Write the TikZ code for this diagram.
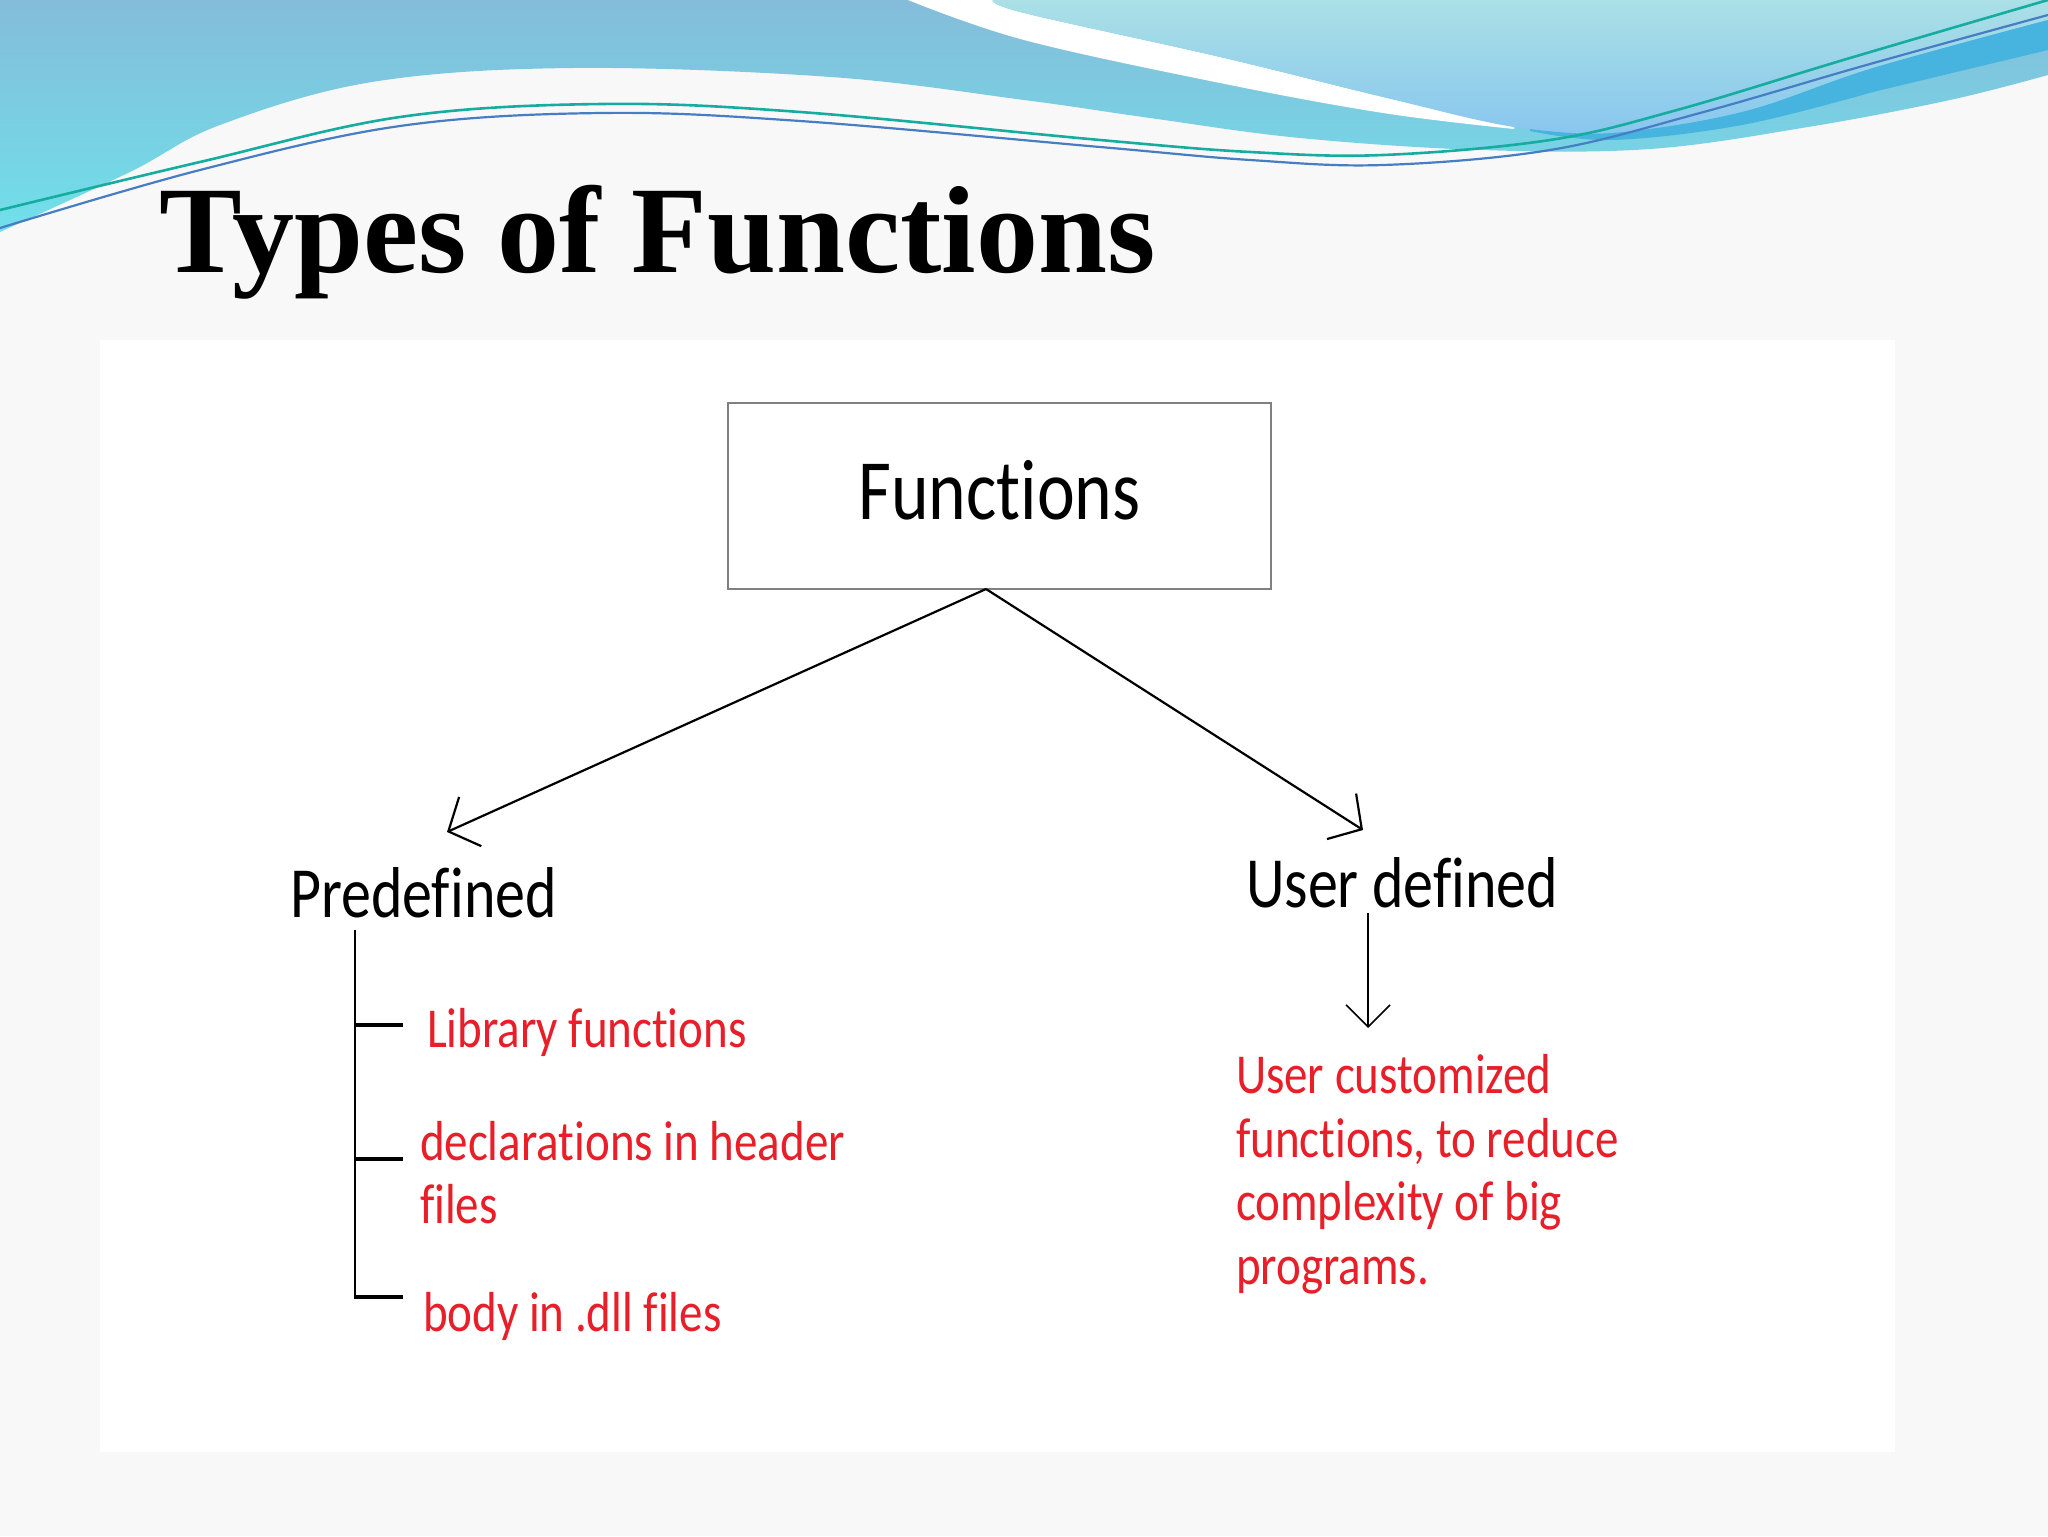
\documentclass[tikz,border=0pt]{standalone}
\usepackage{fontspec}
\usepackage{graphicx}
\setmainfont{Carlito}[Ligatures=NoCommon]
\newfontfamily\titlefont{Liberation Serif}
\usetikzlibrary{arrows.meta}
\definecolor{bgc}{RGB}{248,248,249}
\definecolor{waveAtop}{RGB}{132,188,218}
\definecolor{waveAbot}{RGB}{112,224,234}
\definecolor{waveBtop}{RGB}{170,224,230}
\definecolor{waveBbot}{RGB}{136,198,238}
\definecolor{waveC}{RGB}{70,180,222}
\definecolor{lineteal}{RGB}{22,172,160}
\definecolor{lineblue}{RGB}{70,125,195}
\definecolor{boxgray}{RGB}{128,128,128}
\definecolor{redtxt}{RGB}{232,30,40}
\newcommand\mystretch[1]{\scalebox{1}[1.2]{#1}}
\begin{document}
\begin{tikzpicture}[x=0.5pt,y=-0.5pt,
  lbl/.style={anchor=base west, inner sep=0pt, outer sep=0pt},
  redlbl/.style={lbl, text=redtxt, font=\fontsize{23.5}{28}\selectfont},
  catlbl/.style={lbl, font=\fontsize{30}{36}\selectfont},
  fnbox/.style={draw=boxgray, line width=1pt, minimum width=271.5pt, minimum height=93pt, inner sep=0pt, font=\fontsize{35.8}{43}\selectfont},
  mainarrow/.style={line width=1.1pt, -{Straight Barb[length=12pt,width=27pt]}},
  downarrow/.style={line width=0.8pt, -{Straight Barb[length=11pt,width=22pt]}},
  trunk/.style={line width=1pt},
  tick/.style={line width=1.6pt},
  wave/.style={smooth, tension=0.6}
]
\useasboundingbox (0,0) rectangle (2048,1536);
% background
\fill[bgc] (0,0) rectangle (2048,1536);
\fill[white] (100,340) rectangle (1895,1452);
% waves
\shade[top color=waveAtop, bottom color=waveAbot] (2048,0) -- (0,0) -- plot[wave] coordinates {(0,232) (130,172) (220,125) (372,82) (573,68) (831,77) (1024,100) (1150,118) (1300,138) (1481,150) (1650,149) (1808,127) (1950,100) (2048,75)} -- cycle;
\fill[white] plot[wave] coordinates {(908,0) (1024,40) (1220,83) (1383,113) (1514,129)} -- plot[wave] coordinates {(1514,127) (1383,97) (1220,57) (1024,13) (993,0)} -- cycle;
\shade[top color=waveBtop, bottom color=waveBbot] plot[wave] coordinates {(993,0) (1024,13) (1220,57) (1383,97) (1514,127) (1612,133) (1742,112) (1873,68) (2048,20)} -- (2048,0) -- cycle;
\fill[waveC] plot[wave] coordinates {(1530,129) (1612,133) (1742,112) (1873,68) (2048,20)} -- (2048,50) -- plot[wave] coordinates {(1873,92) (1742,125) (1612,140) (1530,131)} -- cycle;
\draw[lineteal, line width=1.3pt] plot[wave] coordinates {(0,210) (200,162) (400,117) (602,104) (800,112) (1100,140) (1250,152) (1383,155) (1550,140) (1677,110) (1850,58) (2048,0)};
\draw[lineblue, line width=1.1pt] plot[wave] coordinates {(0,228) (200,170) (400,126) (602,113) (800,121) (1100,147) (1250,160) (1383,165) (1550,150) (1700,113) (1870,64) (2048,15)};
% title
\node[lbl, font=\titlefont\bfseries\fontsize{62}{70}\selectfont] (title) at (159,272) {Types of Functions};
% main box
\node[fnbox] (fn) at (999.5,495.5) {\mystretch{Functions}\rule[-6pt]{0pt}{0pt}\hspace{8pt}};
\coordinate (fnb) at (986,589);
\coordinate (ltip) at (447,832);
\coordinate (rtip) at (1363,830);
\draw[mainarrow] (fnb) -- (ltip);
\draw[mainarrow] (fnb) -- (rtip);
% categories
\node[catlbl] (pre) at (290,917) {\mystretch{Predefined}};
\node[catlbl] (ud) at (1246,907) {\mystretch{User defined}};
% predefined tree
\coordinate (ptop) at (355,930);
\coordinate (pbot) at (355,1298);
\coordinate (t1) at (355,1025);
\coordinate (t1e) at (403,1025);
\coordinate (t2) at (355,1159);
\coordinate (t2e) at (403,1159);
\coordinate (t3e) at (403,1297);
\coordinate (t3) at (354,1297);
\draw[trunk] (ptop) -- (pbot);
\draw[tick] (t1) -- (t1e);
\draw[tick] (t2) -- (t2e);
\draw[tick] (t3) -- (t3e);
\node[redlbl] (lib) at (427,1047) {\mystretch{Library functions}};
\node[redlbl] (decl) at (420,1160) {\mystretch{declarations in header}};
\node[redlbl] (files) at (420,1223) {\mystretch{files}};
\node[redlbl] (body) at (423,1331) {\mystretch{body in .dll files}};
% user defined
\coordinate (udtop) at (1368,913);
\coordinate (udtip) at (1368,1028);
\draw[downarrow] (udtop) -- (udtip);
\node[redlbl] (u1) at (1236,1093) {\mystretch{User customized}};
\node[redlbl] (u2) at (1236,1157) {\mystretch{functions, to reduce}};
\node[redlbl] (u3) at (1236,1220) {\mystretch{complexity of big}};
\node[redlbl] (u4) at (1236,1284) {\mystretch{programs.}};
\end{tikzpicture}
\end{document}
